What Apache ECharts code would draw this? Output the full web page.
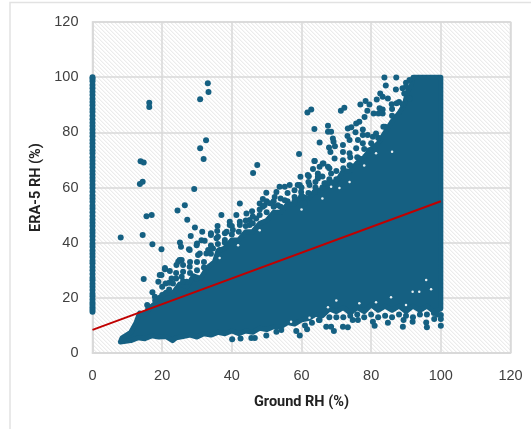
<!DOCTYPE html>
<html><head><meta charset="utf-8">
<style>html,body{margin:0;padding:0;background:#fff}#c{width:531px;height:429px}</style>
<script src="https://cdn.jsdelivr.net/npm/echarts@6/dist/echarts.min.js"></script>
</head><body><div id="c"></div>
<script>
const xTitle = 'Ground RH (%)';
const yTitle = 'ERA-5 RH (%)';
// Ground RH = 0 column: ERA-5 values
const zeroColumnY = [15,15.8,16.6,17.5,18.3,19.4,20.6,21.5,22.8,24,25.1,26.4,27.3,28.6,30,31.2,32.5,33.4,34.8,36,37.2,38.5,39.6,41,42.3,43.5,44.6,46,47.2,48.4,49.7,51,52.3,53.4,54.8,56,57.1,58.5,59.8,61,62.4,63.5,64.8,66,67.3,68.5,69.7,71,72.4,73.5,74.8,76,77.2,78.6,79.8,81,82.3,83.5,84.7,86,87.4,88.5,89.8,91,92.2,93.5,94.7,96,97.2,98.5,99.3,100];
// Outline of the saturated core of the cloud
const coreUpper = [[8.5,5.5],[11,7.5],[12.5,11],[13.5,14.5],[15,14],[17,17],[19,19],[21,22],[23,21.5],[25,25],[27,24],[29,28],[31,27],[33,31],[35,33],[36,37],[38,38],[40,41],[42,41],[44,44],[46,44],[48,47],[50,48],[52,51],[54,51],[56,54],[58,54],[60,57],[62,56],[64,59],[66,59],[68,62],[70,62],[72,66],[74,66],[76,69],[78,71],[80,74],[82,76],[84,80],[86,84],[88,87],[89.5,90],[90.5,95],[91.5,97],[92,100],[100,100]];
const coreLower = [[100,16],[98,15],[96,17],[94,15.5],[92,17],[90,15],[88,17],[86,15.5],[84,17],[82,15.5],[80,17.5],[78,15],[76,16.5],[74,14.5],[72,16.5],[70,15],[68,16],[66,13.5],[64,14],[62,12.5],[60,12],[58,10.5],[56,11],[54,9.5],[52,9.5],[50,8.5],[48,9],[46,7.5],[44,8],[42,7],[40,8],[38,7],[36,7.5],[34,6.5],[32,7],[30,5.8],[28,6.5],[26,6],[24,5.5],[23,4.5],[21,6],[19,5.8],[17,6.2],[15,5.2],[13,5.5],[11,4.5],[8,4]];
// Individually visible points
const outliers = [[16.3,90.7],[16.3,89.2],[33.1,97.8],[33.3,94.6],[30.9,92],[32.6,77.1],[30.9,74.2],[31.9,70.3],[13.8,69.5],[14.7,69.1],[13.6,61.3],[14.4,62.1],[29.2,59.5],[26.5,53.6],[24.4,51.7],[42.3,54.2],[46.1,65.3],[47.3,68.2],[15.5,49.6],[17,50],[8.1,41.9],[14.4,42.8],[17.2,39.4],[19.8,37.6],[14.7,26.8],[15.7,17.4]];
const fringeLeft = [[27.2,48.3],[29.4,45.5],[28.2,42.4],[31.5,44],[25.1,40.1],[25.4,38.5],[27.7,37.6],[30,39.7],[35.9,46],[34,42.8],[37,50],[41.3,50],[44.2,50.6],[45.8,51.4],[48,54.2],[48.9,53],[48.9,55.8],[20.8,30.4],[19.8,28.3],[18.9,25.8],[21,25.2],[17.2,22],[17.9,20.4],[19.3,20],[22.2,29.7],[24.1,31.9],[25.6,33.7],[24.6,33.1],[26,31.9],[22.7,27],[23.1,25.2],[25.6,27.6],[27,25.8],[27.9,31.3],[29.9,27],[30.8,36.1],[32.7,36.1],[34.6,37.9],[36,42.1],[38.5,44],[39.4,46.4],[42.3,47.6],[45.1,48.2],[35.8,44.2],[34,43.4],[39.4,47.6],[42.3,46.4],[45.1,46.4],[47,48.8],[31.3,40.9],[32.2,40.7],[29.9,39.1],[35.6,41.6],[38,43.4],[40.3,44.6],[27.9,37.3],[30.3,35.5],[33.2,37.3],[36.5,37.3],[25,33.7],[20.8,30.8],[19.3,28.3],[49.4,53.6],[16,16],[18,19],[20,21],[20,24],[22,23],[22,25.5],[24,27],[24,29],[26,26],[26,29.5],[28,29],[28,33],[30,30],[30,33],[32,33],[32,31],[34,36],[34,39],[36,39.5],[38,41],[38,40],[40,43],[40,46],[42,44],[44,46],[44,48],[46,47],[46,49.5],[48,50],[48,52],[50,51],[50,55],[52,53],[52,55],[54,53],[54,56],[56,55],[56,58],[58,55],[58,59],[60,57],[60,60],[62,58],[62,62],[64,60],[64,62],[66,60],[66,64],[68,63],[68,67],[70,63],[70,66],[72,67],[74,68],[74,71],[76,71],[78,74],[80,76],[82,78],[84,82],[86,86],[88,91],[86,88.5],[90,98],[89,96],[91,99]];
const fringeRight = [[83.8,99.9],[87.2,99.9],[84.2,97],[87.1,95.5],[82.6,94.1],[83.3,92.9],[84.8,92.3],[81.6,91.9],[89.5,94.1],[90,96.5],[91,92.3],[79.5,90.1],[78.4,91.4],[76.9,90.1],[62.8,88.3],[61.7,87.2],[72.3,88.9],[71.3,87.8],[78.9,87.8],[80.7,86.8],[82.1,86.8],[83.3,88.3],[82.4,88.7],[83.3,86.8],[85.9,90.2],[87.3,90.5],[89,90.2],[78.1,85.6],[76.6,83.8],[75.7,83.2],[74.3,81.8],[73.3,81.4],[67.6,82.4],[63.7,81.2],[67.6,80.2],[68.5,80.2],[65.2,76.3],[69,77.8],[69.2,76.6],[69.6,75],[59.3,72.1],[63.7,69.6],[63.3,66.7],[59.7,63.9],[62.1,64.1],[75.5,80],[77.6,81],[73.2,78.7],[73.8,77.2],[76.2,77.2],[77.6,79],[79,79],[81.4,79.6],[83.5,82],[80.5,78.4],[71.9,75.4],[67.9,74.5],[68.3,72.9],[71.9,72.9],[73.8,72.4],[75.7,74.2],[77.6,76],[79.5,73.5],[66.3,68.7],[65.2,67.5],[69.5,70.5],[71.9,69.9],[67.6,67.5],[64.7,65.1],[68.5,65.1],[73.8,68.1],[76.6,70.5],[49.9,58.1],[53.7,60.3],[56.6,60.9],[55.2,60.3],[59.5,60.9],[62.3,60.9],[64.7,63.3],[67.1,61.5],[52.8,58.4],[58.9,60.9],[61.8,64.5],[63.8,69.6],[52.3,56.6],[55.2,55.4],[50.9,54.3],[53.2,53.6],[58,56.6],[59.9,58.4],[64.7,63.9],[66.1,68.7],[60.9,54.2],[63.8,58.4],[66.6,61.5]];
const fringeLower = [[40.1,5],[42.5,5.3],[45.6,5.4],[46.6,5.4],[49.9,6.3],[59.5,6.3],[52.8,7.7],[54.2,8.3],[58.5,8],[61.6,8.6],[67.1,9.5],[68.5,9.5],[69.3,8],[73.3,9.3],[71.9,9.5],[76.2,12],[81,9.9],[89.1,9.5],[89.3,12],[95.8,11.1],[96,9.3],[98.1,12.3],[100,9.9],[100,12.3],[100,13.8],[91.9,11.3],[84.8,11],[80.5,11.3],[74.7,12],[65.2,12],[61,10],[63,11],[65,12],[68,13],[70,13],[72,13],[74,13.5],[76,14],[78,13],[80,14],[82,13],[84,13.5],[86,13],[88,14],[90,13.5],[92,13],[94,14],[96,14],[98,14.5],[99,14]];
// Small unfilled gaps inside the cloud
const gaps = [[97.2,23.1],[91.9,22.2],[93.8,22.2],[85.7,20.2],[81.4,18.4],[67.6,16.6],[70,19],[76.6,18],[95.8,26.5],[90,17.4],[81,14.7],[57,11.3],[62.3,12.8],[86,73],[81.4,72.4],[73.8,62],[68.5,60.3],[70.9,59.8],[41.8,39.1],[36.5,34.4],[66,56],[60,52],[48,44.5],[78,68]];
const trendX = [0,100];
const trendY = [8.4,55];

const allPoints = zeroColumnY.map(v=>[0,v]).concat(outliers,fringeLeft,fringeRight,fringeLower);
const blue = '#156082', grid = '#d9d9d9', tick = '#404040';

const tile = document.createElement('canvas'); tile.width = tile.height = 4;
const g = tile.getContext('2d'); g.fillStyle='#fff'; g.fillRect(0,0,4,4);
g.fillStyle='#ececec'; for(let i=0;i<4;i++){ g.fillRect(i,i,1,1); } 
g.fillStyle='#f7f7f7'; for(let i=0;i<4;i++){ g.fillRect((i+1)%4,i,1,1); }

const chart = echarts.init(document.getElementById('c'),null,{renderer:'canvas'});
const core = coreUpper.concat(coreLower);
const axisBase = {min:0,max:120,interval:20,
  axisTick:{show:false},axisLine:{show:true,onZero:false,lineStyle:{color:grid,width:1.5}},
  splitLine:{show:true,lineStyle:{color:grid,width:1.5}},
  axisLabel:{color:tick,fontFamily:'Liberation Sans',fontSize:14.5}};
const titleStyle = {fontFamily:'Roboto',fontWeight:'bold',fontSize:14.5,color:'#222'};
chart.setOption({
  animation:false,backgroundColor:'#fff',
  graphic:[{type:'rect',z:0,silent:true,shape:{x:10,y:2.5,width:700,height:700},style:{fill:'none',stroke:'#e2e2e2',lineWidth:1.5}}],
  grid:{left:92.5,right:20.5,top:22,bottom:76,show:true,borderColor:grid,borderWidth:1.5,
        backgroundColor:{image:tile,repeat:'repeat'}},
  xAxis:Object.assign({},axisBase,{type:'value',name:xTitle,nameLocation:'middle',nameGap:42,
    axisLabel:Object.assign({},axisBase.axisLabel,{margin:15}),
    nameTextStyle:titleStyle}),
  yAxis:Object.assign({},axisBase,{type:'value',name:yTitle,nameLocation:'middle',nameGap:35,
    axisLabel:Object.assign({},axisBase.axisLabel,{margin:14}),
    nameTextStyle:titleStyle}),
  series:[
   {type:'custom',coordinateSystem:'cartesian2d',z:3,clip:false,silent:true,data:core,
    renderItem:function(p,api){
      if(p.dataIndex!==0) return null;
      return {type:'polygon',shape:{points:core.map(c=>api.coord(c))},
        style:{fill:blue,stroke:blue,lineWidth:5,lineJoin:'round'}};
    }},
   {type:'scatter',z:4,clip:false,silent:true,symbol:'circle',symbolSize:6,itemStyle:{color:blue,opacity:1},data:allPoints},
   {type:'scatter',z:4.5,clip:false,silent:true,symbol:'circle',symbolSize:2.5,itemStyle:{color:'#e6eef1',opacity:1},data:gaps},
   {type:'line',z:5,silent:true,symbol:'none',lineStyle:{color:'#C00000',width:2},data:trendX.map((x,i)=>[x,trendY[i]])}
  ]
});
</script></body></html>
